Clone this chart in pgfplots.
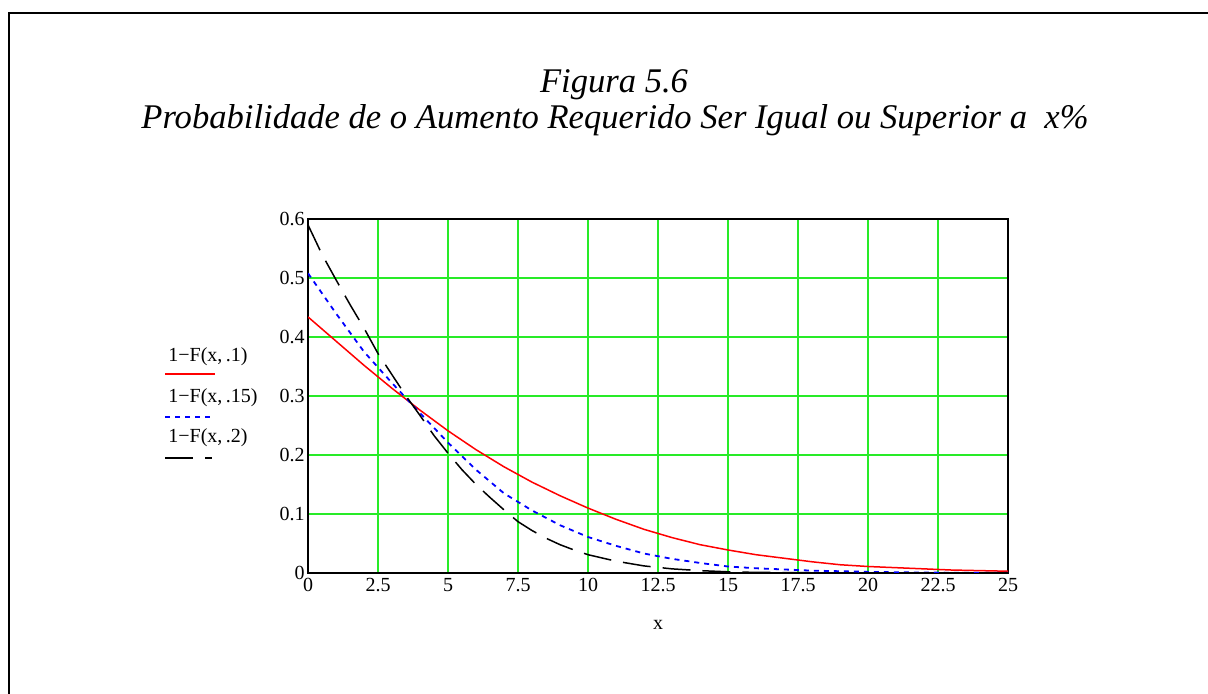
\documentclass[border=0pt]{standalone}
\usepackage{fontspec}
\setmainfont{Liberation Serif}
\usepackage{pgfplots}
\usepackage{pgfplotstable}
\pgfplotsset{compat=1.18}
\definecolor{gridgreen}{RGB}{40,235,40}

\pgfplotstableread{
x y
0 0.434
1 0.393
2 0.352
3 0.313
4 0.276
5 0.241
6 0.209
7 0.180
8 0.154
9 0.131
10 0.110
11 0.091
12 0.074
13 0.060
14 0.048
15 0.039
16 0.031
17 0.025
18 0.019
19 0.014
20 0.011
21 0.009
22 0.007
23 0.005
24 0.004
25 0.003
}\redtab

\pgfplotstableread{
x y
0 0.508
1 0.440
2 0.375
3 0.322
4 0.271
5 0.221
6 0.175
7 0.135
8 0.106
9 0.081
10 0.061
11 0.046
12 0.033
13 0.024
14 0.017
15 0.011
16 0.008
17 0.006
18 0.004
19 0.003
20 0.002
21 0.0012
22 0.0008
23 0.0005
24 0.0003
25 0.0002
}\bluetab

\pgfplotstableread{
x y
0 0.590
0.5 0.540
1 0.497
1.5 0.455
2 0.415
2.5 0.372
3 0.336
3.5 0.300
4 0.267
4.5 0.233
5 0.203
5.5 0.175
6 0.150
6.5 0.128
7 0.107
7.5 0.087
8 0.072
8.5 0.059
9 0.048
9.5 0.039
10 0.031
11 0.020
12 0.012
13 0.007
14 0.004
15 0.002
16 0.001
18 0.0004
20 0.0001
25 0.0
}\blacktab

\begin{document}
\begin{tikzpicture}
\path[use as bounding box] (0pt,0pt) rectangle (604pt,347pt);
\draw[line width=1pt] (4.25pt,0pt) -- (4.25pt,340.25pt) -- (604pt,340.25pt);
\node[font=\fontsize{17.3}{20}\selectfont\itshape] at (307pt,304.5pt) {Figura 5.6};
\node[font=\fontsize{17.3}{20}\selectfont\itshape] at (307.5pt,287pt) {Probabilidade de o Aumento Requerido Ser Igual ou Superior a\ \ x\%};
\begin{axis}[
  at={(154pt,60.5pt)}, anchor=south west,
  scale only axis, width=350pt, height=177pt,
  xmin=0, xmax=25, ymin=0, ymax=0.6,
  xtick={0,2.5,5,7.5,10,12.5,15,17.5,20,22.5,25},
  xticklabels={0,2.5,5,7.5,10,12.5,15,17.5,20,22.5,25},
  ytick={0,0.1,0.2,0.3,0.4,0.5,0.6},
  yticklabels={0,0.1,0.2,0.3,0.4,0.5,0.6},
  xmajorgrids=true, ymajorgrids=true,
  grid style={gridgreen, line width=0.7pt},
  major grid style={gridgreen, line width=0.7pt},
  major tick length=0pt,
  tick label style={font=\fontsize{10}{12}\selectfont},
  yticklabel style={inner xsep=1.5pt},
  xticklabel style={inner ysep=2.5pt},
  axis line style={black, line width=0.8pt},
  xlabel={x},
  xlabel style={font=\fontsize{10}{12}\selectfont, at={(axis description cs:0.5,0)}, anchor=center, yshift=-26pt},
]
\addplot[red, line width=0.75pt] table {\redtab};
\addplot[blue, line width=0.9pt, dash pattern=on 2.5pt off 2.5pt] table {\bluetab};
\addplot[black, line width=0.75pt, dash pattern=on 14pt off 6pt] table {\blacktab};
\end{axis}
% legend
\node[anchor=west, inner sep=0pt, font=\fontsize{10}{12}\selectfont] at (84pt,168.5pt) {1−F(x,\,.1)};
\draw[red, line width=0.75pt] (82.5pt,160pt) -- (107.5pt,160pt);
\node[anchor=west, inner sep=0pt, font=\fontsize{10}{12}\selectfont] at (84pt,148pt) {1−F(x,\,.15)};
\draw[blue, line width=0.9pt, dash pattern=on 2.5pt off 2.5pt] (82.5pt,138.5pt) -- (105pt,138.5pt);
\node[anchor=west, inner sep=0pt, font=\fontsize{10}{12}\selectfont] at (84pt,128pt) {1−F(x,\,.2)};
\draw[black, line width=0.75pt, dash pattern=on 14pt off 6pt] (82.5pt,118pt) -- (106pt,118pt);
\end{tikzpicture}
\end{document}
